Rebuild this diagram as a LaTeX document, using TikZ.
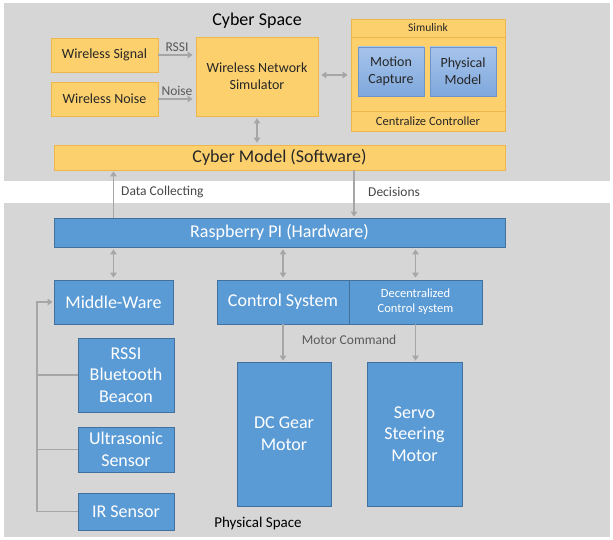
\documentclass[tikz,border=0pt]{standalone}
\usepackage{fontspec}
\setmainfont{Carlito}
\usetikzlibrary{arrows.meta}
\definecolor{bgGray}{HTML}{D6D6D6}
\definecolor{ylwFill}{HTML}{FDD06E}
\definecolor{ylwDraw}{HTML}{EDB74C}
\definecolor{bluFill}{HTML}{5B9BD5}
\definecolor{bluDraw}{HTML}{41719C}
\definecolor{lbluTop}{HTML}{A6C4EC}
\definecolor{lbluBot}{HTML}{7FA8DC}
\definecolor{lbluDraw}{HTML}{6D95C7}
\definecolor{arrGray}{HTML}{A6A6A6}
\definecolor{txtDark}{HTML}{262626}
\definecolor{lblGray}{HTML}{595959}
\newcommand{\fs}[1]{\fontsize{#1pt}{\dimexpr #1pt*6/5\relax}\selectfont}
\tikzset{
  boxbase/.style={draw, line width=0.8pt, inner sep=0pt, align=center},
  ybox/.style={boxbase, fill=ylwFill, draw=ylwDraw, text=txtDark},
  bbox/.style={boxbase, fill=bluFill, draw=bluDraw, text=white},
  lbox/.style={boxbase, top color=lbluTop, bottom color=lbluBot, draw=lbluDraw, text=txtDark},
  arr/.style={draw=arrGray, line width=1.9pt, -{Triangle[length=5pt,width=6.5pt]}},
  darr/.style={draw=arrGray, line width=1.9pt, {Triangle[length=5pt,width=6.5pt]}-{Triangle[length=5pt,width=6.5pt]}},
  wire/.style={draw=arrGray, line width=1.9pt},
  lbl/.style={text=lblGray, inner sep=0pt},
}
\begin{document}
\begin{tikzpicture}[x=1pt,y=-1pt]
\useasboundingbox (0,0) rectangle (613,540);
\fill[white] (0,0) rectangle (613,540);
% backgrounds
\fill[bgGray] (4,3) rectangle (610,181);
\fill[bgGray] (4,203) rectangle (610,537);

\node[inner sep=0pt, text=black, font=\fs{18}] (cyt) at (257,21) {Cyber Space};
\node[inner sep=0pt, text=black, font=\fs{15}] (pst) at (258,523) {Physical Space};

% cyber space
\node[ybox, minimum width=107pt, minimum height=34pt, font=\fs{14}] (ws) at (104.5,55) {Wireless Signal};
\node[ybox, minimum width=107pt, minimum height=34pt, font=\fs{14}] (wn) at (104.5,99) {Wireless Noise};
\node[ybox, minimum width=122pt, minimum height=79pt, font=\fs{14}] (sim) at (257,76.5) {Wireless Network\\Simulator};
\node[ybox, minimum width=154pt, minimum height=112pt] (slk) at (428,75) {};
\draw[ylwDraw, line width=0.8pt] (slk.west |- 0,37) -- (slk.east |- 0,37);
\draw[ylwDraw, line width=0.8pt] (slk.west |- 0,111) -- (slk.east |- 0,111);
\node[inner sep=0pt, text=txtDark, font=\fs{11.5}] (slkt) at (428,28) {Simulink};
\node[inner sep=0pt, text=txtDark, font=\fs{12.5}] (cct) at (428,121.5) {Centralize Controller};
\node[lbox, minimum width=66pt, minimum height=49pt, font=\fs{14}] (mc) at (391,71.5) {Motion\\Capture};
\node[lbox, minimum width=66pt, minimum height=49pt, font=\fs{14}] (pm) at (463,71.5) {Physical\\Model};
\node[ybox, minimum width=451pt, minimum height=25pt, font=\fs{18}] (cm) at (279.5,157.5) {Cyber Model (Software)};

\draw[arr, shorten >=3pt] (ws.east) -- (ws.east -| sim.west) node[lbl, midway, above=2pt, font=\fs{13.5}] {RSSI};
\draw[arr, shorten >=3pt] (wn.east) -- (wn.east -| sim.west) node[lbl, midway, above=2pt, font=\fs{13.5}] {Noise};
\draw[darr, shorten >=3pt, shorten <=3pt] (sim.east |- 0,75) -- (slk.west |- 0,75);
\draw[darr, shorten >=2pt, shorten <=2pt] (sim.south) -- (sim.south |- cm.north);

% physical space
\node[bbox, minimum width=451pt, minimum height=29pt, font=\fs{18}] (rp) at (279.5,232.5) {Raspberry PI (Hardware)};
\node[bbox, minimum width=119pt, minimum height=44pt, font=\fs{18}] (mw) at (113.5,302) {Middle-Ware};
\node[bbox, minimum width=132pt, minimum height=44pt, font=\fs{18}] (cs) at (283,302) {Control System};
\node[bbox, minimum width=133pt, minimum height=44pt, font=\fs{12.5}] (dcs) at (415.5,302) {Decentralized\\Control system};
\node[bbox, minimum width=96pt, minimum height=74pt, font=\fs{18}] (rssi) at (126,375) {RSSI\\Bluetooth\\Beacon};
\node[bbox, minimum width=96pt, minimum height=45pt, font=\fs{18}] (us) at (126,449.5) {Ultrasonic\\Sensor};
\node[bbox, minimum width=96pt, minimum height=37pt, font=\fs{18}] (ir) at (126,511.5) {IR Sensor};
\node[bbox, minimum width=94pt, minimum height=144pt, font=\fs{18}] (dc) at (284,434) {DC Gear\\Motor};
\node[bbox, minimum width=95pt, minimum height=144pt, font=\fs{18}] (sv) at (414.5,434) {Servo\\Steering\\Motor};

\coordinate (dx) at (354,0);
\coordinate (bx) at (37,0);

\draw[arr, shorten >=1pt] (mw.north |- rp.north) -- (mw.north |- cm.south);
\node[inner sep=0pt, text=txtDark!85, font=\fs{13.5}, anchor=west] (dct) at (121,192) {Data Collecting};
\draw[arr, shorten >=1pt] (dx |- cm.south) -- (dx |- rp.north);
\node[inner sep=0pt, text=txtDark!85, font=\fs{13.5}, anchor=west] (dst) at (368,192) {Decisions};

\draw[darr, shorten >=2pt, shorten <=2pt] (mw.north |- rp.south) -- (mw.north);
\draw[darr, shorten >=2pt, shorten <=2pt] (cs.north |- rp.south) -- (cs.north);
\draw[darr, shorten >=2pt, shorten <=2pt] (dcs.north |- rp.south) -- (dcs.north);

\draw[arr, shorten >=1pt] (cs.south) -- (cs.south |- dc.north);
\draw[arr, shorten >=1pt] (dcs.south) -- (dcs.south |- sv.north);
\node[lbl, font=\fs{13.5}] (mct) at (349,340) {Motor Command};

\draw[arr, shorten >=1pt] (ir.west) -| (bx |- mw.west) -- (mw.west);
\draw[wire] (rssi.west) -- (rssi.west -| bx);
\draw[wire] (us.west) -- (us.west -| bx);
\end{tikzpicture}
\end{document}
